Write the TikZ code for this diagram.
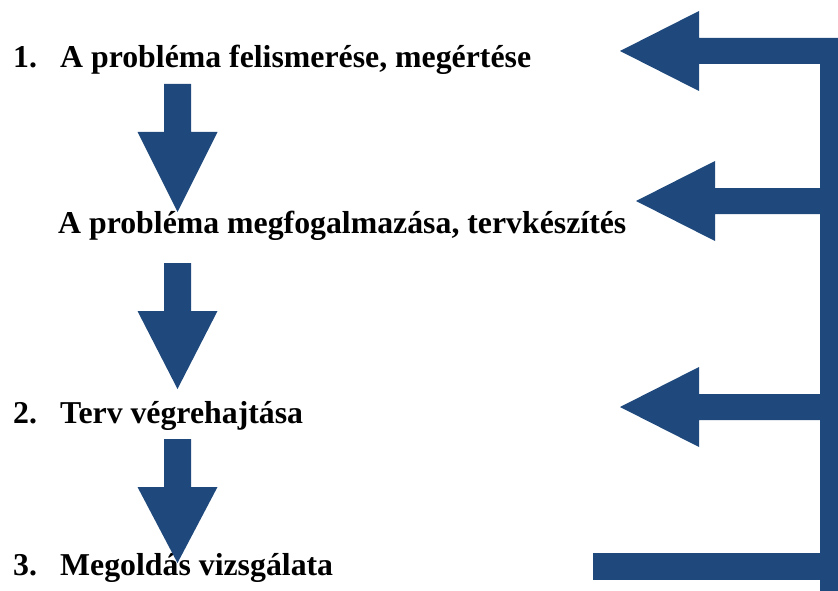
\documentclass[tikz,border=0pt]{standalone}
\usepackage{fontspec}
\setmainfont{Liberation Serif}
\definecolor{arrowblue}{RGB}{31,73,125}
\tikzset{
  blockarrow/.style={fill=arrowblue, draw=none},
  steptext/.style={anchor=base west, inner sep=0pt, font=\fontsize{31.8}{38}\selectfont\bfseries}
}
% down arrow: centre x, top y, tip y
\newcommand{\dnarrow}[3]{%
  \fill[blockarrow] (#1-13.5,#2) -- (#1+13.5,#2) -- (#1+13.5,#2+48) -- (#1+40,#2+48)
    -- (#1,#3) -- (#1-40,#2+48) -- (#1-13.5,#2+48) -- cycle;}
% left arrow from the bar: tip x, centre y, head base x
\newcommand{\lfarrow}[3]{%
  \fill[blockarrow] (#1,#2) -- (#3,#2-40) -- (#3,#2-13) -- (846,#2-13) -- (846,#2+13)
    -- (#3,#2+13) -- (#3,#2+40) -- cycle;}
\begin{document}
\begin{tikzpicture}[x=1pt, y=-1pt]
  \useasboundingbox (0,0) rectangle (838,591);
  \clip (0,0) rectangle (838,591);

  % Lépések
  \node[steptext] (n1) at (13,68) {1.};
  \node[steptext] (s1) at (60,68) {A probléma felismerése, megértése};
  \node[steptext] (s2) at (58,233) {A probléma megfogalmazása, tervkészítés};
  \node[steptext] (n2) at (13,423) {2.};
  \node[steptext] (s3) at (60,423) {Terv végrehajtása};
  \node[steptext] (n3) at (13,575) {3.};
  \node[steptext] (s4) at (60,575) {Megoldás vizsgálata};

  % Lefelé mutató nyilak
  \dnarrow{177.5}{84}{212}
  \dnarrow{177.5}{263}{389}
  \dnarrow{177.5}{439}{563}

  % Visszacsatolás
  \fill[blockarrow] (820,38) rectangle (846,600); % függőleges sáv
  \lfarrow{620}{51}{699}
  \lfarrow{636}{201}{715}
  \lfarrow{620}{407}{699}
  \fill[blockarrow] (593,553) rectangle (846,580); % alsó sáv
\end{tikzpicture}
\end{document}
